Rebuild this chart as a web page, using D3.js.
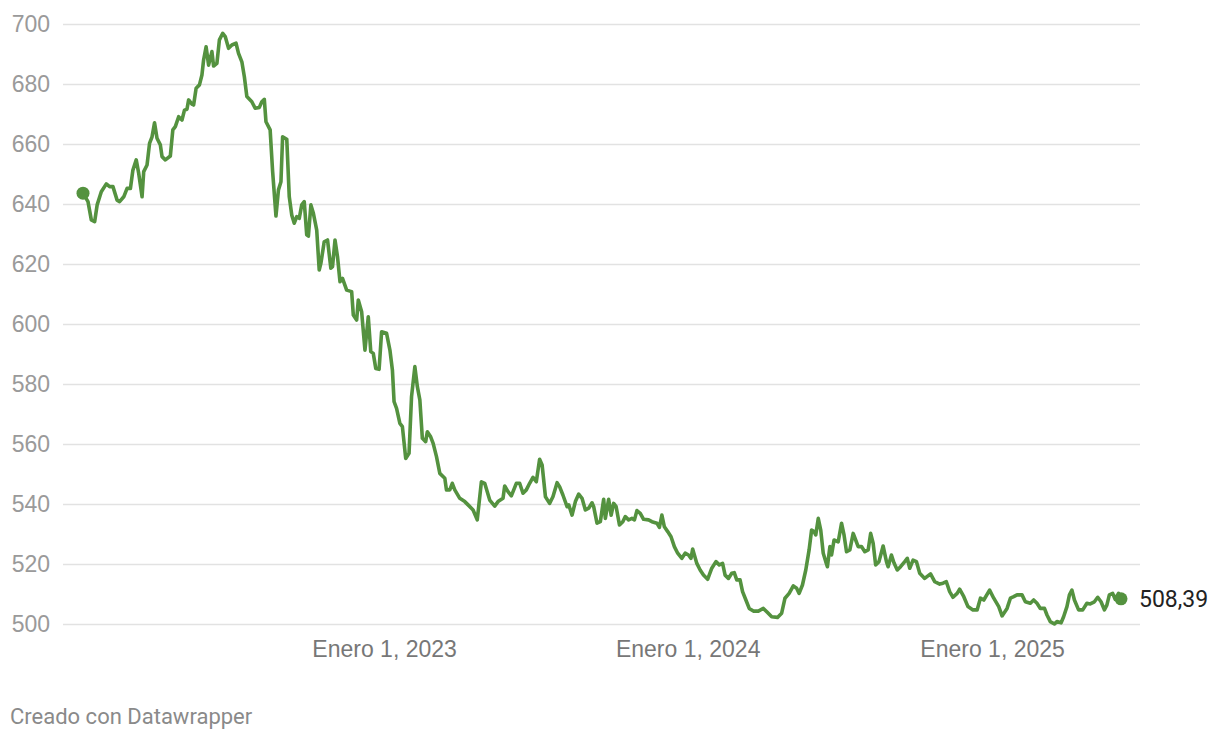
<!DOCTYPE html>
<html>
<head>
<meta charset="utf-8">
<script src="https://cdn.jsdelivr.net/npm/d3@7"></script>
<style>
  body { margin: 0; background: #fff; }
  svg { display: block; font-family: Roboto, "Noto Sans", sans-serif; }
  .y-axis text { fill: #9a9a9a; font-size: 23px; }
  .x-axis text { fill: #777; font-size: 23px; }
  .y-axis line { stroke: #e2e2e2; stroke-width: 1.5; }
</style>
</head>
<body>
<script>
// ---- data ----
var startDate = "2022-01-04";
// days since startDate
var dayOffsets = [
  0, 6, 10, 14, 17, 22, 28, 32, 36, 41, 44, 49, 53, 57, 60, 64, 67, 71, 73, 77,
  80, 83, 86, 89, 93, 95, 99, 105, 108, 111, 115, 119, 122, 125, 127, 131, 133, 136, 140, 143,
  145, 148, 151, 155, 157, 161, 164, 168, 171, 175, 179, 184, 187, 191, 194, 197, 203, 207, 212, 215,
  218, 220, 225, 228, 232, 235, 238, 240, 245, 248, 251, 254, 257, 260, 263, 266, 269, 271, 274, 277,
  281, 284, 286, 290, 294, 298, 300, 303, 306, 309, 312, 317, 323, 325, 329, 331, 335, 339, 343, 346,
  349, 352, 356, 359, 365, 369, 372, 374, 377, 381, 384, 388, 392, 395, 399, 402, 405, 408, 412, 414,
  418, 421, 425, 429, 435, 437, 441, 444, 447, 453, 459, 463, 469, 474, 479, 483, 489, 495, 499, 505,
  507, 511, 515, 521, 525, 529, 533, 537, 541, 545, 549, 552, 556, 561, 565, 570, 573, 577, 582, 584,
  588, 592, 596, 600, 604, 608, 612, 614, 618, 622, 626, 628, 632, 635, 638, 641, 645, 649, 652, 656,
  660, 663, 666, 670, 674, 680, 684, 690, 693, 696, 699, 703, 707, 711, 715, 720, 724, 728, 731, 733,
  738, 742, 746, 751, 756, 761, 765, 769, 772, 776, 780, 783, 786, 790, 793, 797, 801, 806, 812, 818,
  823, 828, 835, 840, 844, 849, 854, 858, 861, 865, 869, 873, 876, 879, 881, 884, 887, 890, 893, 895,
  898, 900, 903, 908, 912, 915, 918, 922, 926, 929, 932, 936, 940, 944, 947, 950, 953, 957, 962, 966,
  968, 972, 975, 979, 983, 988, 991, 994, 998, 1002, 1006, 1012, 1019, 1024, 1030, 1034, 1038, 1042, 1046, 1051,
  1054, 1059, 1064, 1070, 1075, 1079, 1083, 1090, 1095, 1101, 1105, 1111, 1115, 1119, 1123, 1129, 1133, 1139, 1143, 1147,
  1151, 1156, 1159, 1163, 1168, 1171, 1176, 1179, 1183, 1186, 1189, 1192, 1197, 1202, 1207, 1211, 1216, 1220, 1224, 1228,
  1231, 1234, 1238, 1241, 1245, 1248
];
var prices = [
  643.6, 640.8, 634.7, 634.1, 639.7, 644.1, 646.7, 645.8, 645.8, 641.3, 640.8, 642.4, 645.2, 645.2, 651.3, 654.7, 650.2, 642.4, 650.8, 653,
  660.2, 662.4, 667.1, 661.9, 659.7, 655.8, 654.7, 656, 664.7, 665.8, 669.1, 668, 671.3, 671.6, 674.7, 673.3, 673, 678.6, 679.7, 683,
  688, 692.4, 686.3, 690.8, 686, 686.9, 694.7, 696.9, 695.8, 691.9, 693, 693.6, 690.2, 687.4, 682.4, 675.8, 674.1, 671.9, 672.2, 674.1,
  674.9, 667.4, 664.7, 650.8, 636, 644.7, 647.4, 662.4, 661.6, 642.4, 636.3, 633.6, 635.8, 635.2, 639.7, 640.8, 629.7, 629.3, 639.7, 636.9,
  631.3, 618, 620.2, 627.4, 628, 618.6, 619.1, 628, 622.4, 614.1, 615.2, 611.3, 610.8, 603, 601.3, 608, 604.1, 591.3, 602.4, 590.8,
  590.2, 585.2, 584.9, 597.4, 596.9, 591.3, 584.7, 574.1, 571.9, 566.9, 565.8, 555.2, 556.9, 575.8, 585.8, 579.1, 574.7, 561.9, 560.8, 564.1,
  562.4, 560.2, 555.8, 550.2, 548.6, 544.7, 544.7, 546.9, 544.7, 541.9, 540.8, 539.7, 538, 534.7, 547.4, 546.9, 541.3, 539.3, 540.8, 541.9,
  546, 544.1, 542.7, 546.9, 546.9, 543.6, 544.7, 546.9, 548.9, 547.4, 554.9, 553, 542.4, 540.2, 542.4, 547.1, 545.8, 543, 539.1, 539.7,
  536.3, 540.8, 543.3, 541.9, 538, 538.6, 540.4, 539.1, 533.6, 534.1, 541.6, 535.2, 541.6, 536.3, 540.2, 539.1, 533, 534.1, 535.8, 534.7,
  535.2, 534.7, 537.8, 536.9, 534.9, 534.7, 534.1, 533.6, 532.2, 536.3, 532.4, 530.8, 529.1, 525.8, 523.6, 521.9, 523.6, 523, 521.9, 525,
  520.2, 518, 516.3, 514.9, 518.6, 520.8, 519.7, 520.2, 516.3, 515.2, 516.9, 517.1, 514.7, 514.7, 510.8, 508, 505.2, 504.3, 504.3, 505.2,
  503.8, 502.4, 502.2, 503.6, 508.6, 510.2, 512.7, 511.9, 510.2, 513, 518, 524.7, 531.3, 530.8, 529.7, 535.2, 531.3, 523.6, 520.8, 519.1,
  525.8, 523, 528, 527.4, 533.6, 529.7, 524.1, 524.7, 530.2, 528, 525.8, 525.8, 524.1, 524.7, 530.2, 526.9, 519.7, 520.8, 526, 520.8,
  519.1, 523, 520.4, 518, 519.1, 520.8, 521.9, 518.6, 521.3, 520.8, 516.9, 515.2, 516.7, 514.1, 513.3, 513.6, 514.1, 510.8, 508.9, 510.2,
  511.6, 509.1, 505.8, 504.7, 504.7, 508.6, 508, 511.3, 508.6, 505.8, 502.7, 505.2, 508.6, 509.1, 509.7, 509.7, 507.4, 506.9, 508, 506.9,
  505.2, 505.2, 503, 500.8, 500, 500.8, 500.4, 502.4, 505.8, 509.7, 511.3, 508, 504.7, 504.7, 506.9, 506.7, 507.4, 508.9, 507.4, 504.7,
  506.3, 509.7, 510.2, 508.2, 510.2, 508.39
];
var xTickDates = ["2023-01-01", "2024-01-01", "2025-01-01"];
var xTickLabels = ["Enero 1, 2023", "Enero 1, 2024", "Enero 1, 2025"];
var yTicks = [500, 520, 540, 560, 580, 600, 620, 640, 660, 680, 700];
var endDate = "2025-06-05";
var lastLabel = "508,39";
var footerText = "Creado con Datawrapper";

// ---- layout ----
var width = 1220, height = 740;
var margin = {top: 24, right: 80, bottom: 116, left: 63};
var lineColor = "#54923f";

var parseDate = d3.utcParse("%Y-%m-%d");
var start = parseDate(startDate);
var data = dayOffsets.map(function(d, i) {
  return {date: d3.utcDay.offset(start, d), value: prices[i]};
});

var svg = d3.select("body").append("svg")
    .attr("width", width)
    .attr("height", height);

var x = d3.scaleUtc()
    .domain([start, parseDate(endDate)])
    .range([margin.left + 20, width - margin.right - 19]);

var y = d3.scaleLinear()
    .domain([500, 700])
    .range([height - margin.bottom, margin.top]);

// gridlines + y labels
svg.append("g")
    .attr("class", "y-axis")
    .attr("transform", "translate(" + (width - margin.right) + ",0)")
    .call(d3.axisLeft(y)
      .tickValues(yTicks)
      .tickSize(width - margin.right - margin.left)
      .tickPadding(13)
      .tickFormat(d3.format("d")))
    .call(function(g) { g.select(".domain").remove(); });

// x labels
svg.append("g")
    .attr("class", "x-axis")
    .attr("transform", "translate(0," + (height - margin.bottom) + ")")
    .call(d3.axisBottom(x)
      .tickValues(xTickDates.map(parseDate))
      .tickSize(0)
      .tickPadding(17)
      .tickFormat(function(d, i) { return xTickLabels[i]; }))
    .call(function(g) { g.select(".domain").remove(); });

// line
var line = d3.line()
    .x(function(d) { return x(d.date); })
    .y(function(d) { return y(d.value); });

svg.append("path")
    .datum(data)
    .attr("fill", "none")
    .attr("stroke", lineColor)
    .attr("stroke-width", 3.6)
    .attr("stroke-linejoin", "round")
    .attr("stroke-linecap", "round")
    .attr("d", line);

// start / end dots
var first = data[0], last = data[data.length - 1];
svg.selectAll(".dot")
    .data([first, last])
  .enter().append("circle")
    .attr("class", "dot")
    .attr("cx", function(d) { return x(d.date); })
    .attr("cy", function(d) { return y(d.value); })
    .attr("r", 6.5)
    .attr("fill", lineColor);

// end value label
svg.append("text")
    .attr("x", x(last.date) + 18)
    .attr("y", y(last.value))
    .attr("dy", "0.35em")
    .style("font-size", "23px")
    .style("fill", "#222")
    .text(lastLabel);

// footer
svg.append("text")
    .attr("x", 10)
    .attr("y", 724)
    .style("font-size", "22px")
    .style("fill", "#8a8a8a")
    .text(footerText);
</script>
</body>
</html>
